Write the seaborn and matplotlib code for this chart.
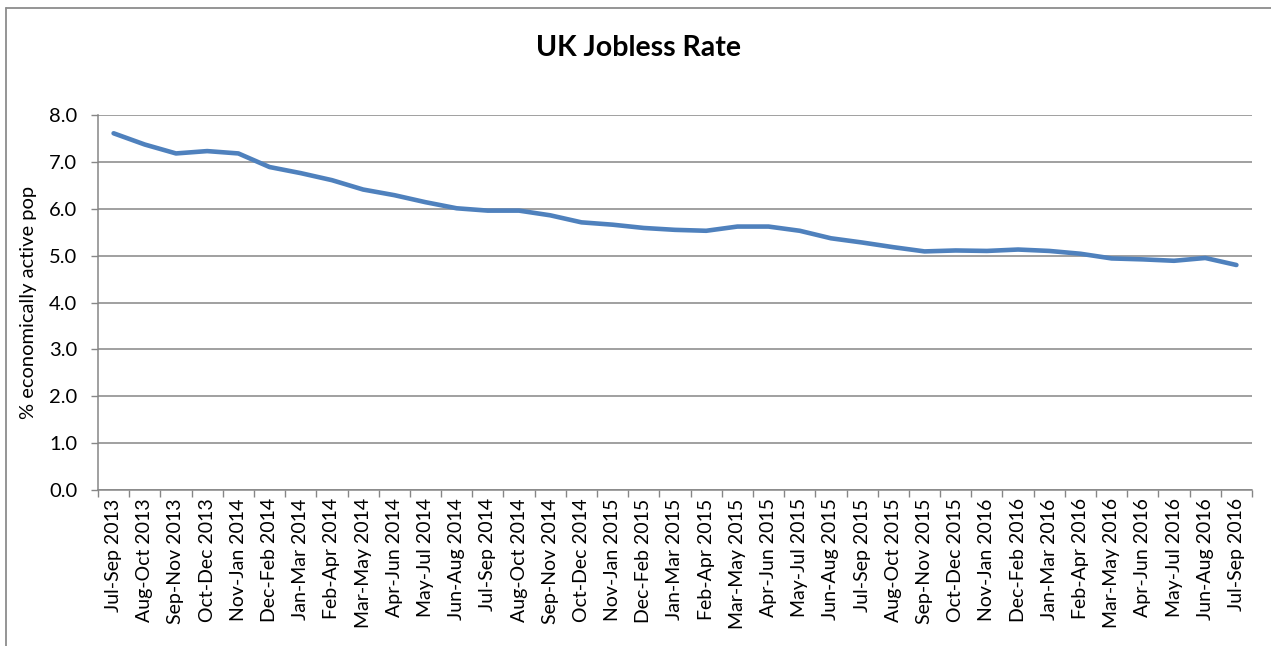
import matplotlib
matplotlib.use("Agg")
import matplotlib.pyplot as plt
import seaborn as sns
import pandas as pd
import numpy as np
from matplotlib.lines import Line2D

periods = [
    "Jul-Sep 2013", "Aug-Oct 2013", "Sep-Nov 2013", "Oct-Dec 2013",
    "Nov-Jan 2014", "Dec-Feb 2014", "Jan-Mar 2014", "Feb-Apr 2014",
    "Mar-May 2014", "Apr-Jun 2014", "May-Jul 2014", "Jun-Aug 2014",
    "Jul-Sep 2014", "Aug-Oct 2014", "Sep-Nov 2014", "Oct-Dec 2014",
    "Nov-Jan 2015", "Dec-Feb 2015", "Jan-Mar 2015", "Feb-Apr 2015",
    "Mar-May 2015", "Apr-Jun 2015", "May-Jul 2015", "Jun-Aug 2015",
    "Jul-Sep 2015", "Aug-Oct 2015", "Sep-Nov 2015", "Oct-Dec 2015",
    "Nov-Jan 2016", "Dec-Feb 2016", "Jan-Mar 2016", "Feb-Apr 2016",
    "Mar-May 2016", "Apr-Jun 2016", "May-Jul 2016", "Jun-Aug 2016",
    "Jul-Sep 2016",
]
jobless_rate = [
    7.61, 7.37, 7.18, 7.23, 7.18, 6.89, 6.76, 6.61,
    6.41, 6.29, 6.14, 6.01, 5.96, 5.96, 5.86, 5.71,
    5.66, 5.59, 5.55, 5.53, 5.62, 5.62, 5.53, 5.37,
    5.28, 5.18, 5.09, 5.11, 5.10, 5.13, 5.10, 5.04,
    4.94, 4.92, 4.89, 4.95, 4.80,
]
y_ticks = [0.0, 1.0, 2.0, 3.0, 4.0, 5.0, 6.0, 7.0, 8.0]

title = "UK Jobless Rate"
y_label = "% economically active pop"

sns.set_theme(style="white")
plt.rcParams["font.family"] = ["Lato", "DejaVu Sans"]

df = pd.DataFrame({"period": periods, "rate": jobless_rate})

fig = plt.figure(figsize=(12.71, 6.46), dpi=100)
ax = fig.add_axes([98 / 1271, 1 - 490 / 646, (1252 - 98) / 1271, (490 - 115) / 646])

grid_col = "#868686"
sns.lineplot(data=df, x="period", y="rate", sort=False, ax=ax,
             color="#4F81BD", linewidth=3.3, solid_capstyle="round")

n = len(periods)
ax.set_xlim(-0.5, n - 0.5)
ax.set_ylim(y_ticks[0], y_ticks[-1])
ax.set_yticks(y_ticks)
ax.set_yticklabels([f"{v:.1f}" for v in y_ticks], fontsize=14.5, color="black")
ax.yaxis.grid(True, color=grid_col, linewidth=1.1)
ax.xaxis.grid(False)

# category labels at centers, ticks at category boundaries
ax.set_xticks(np.arange(n))
ax.set_xticklabels(periods, rotation=90, fontsize=14, color="black")
ax.set_xticks(np.arange(n + 1) - 0.5, minor=True)
ax.tick_params(axis="x", which="major", length=0, pad=6)
ax.tick_params(axis="x", which="minor", length=5, width=1, color=grid_col, direction="out", bottom=True)
ax.tick_params(axis="y", which="major", length=5, width=1, color=grid_col, direction="out", left=True, pad=10)

for s in ["top", "right"]:
    ax.spines[s].set_visible(False)
for s in ["left", "bottom"]:
    ax.spines[s].set_color(grid_col)
    ax.spines[s].set_linewidth(1.1)

ax.set_xlabel("")
ax.set_ylabel(y_label, fontsize=14.5, color="black")
ax.yaxis.set_label_coords((37 - 98) / 1154, 0.5)

fig.text(638 / 1271, 1 - 48 / 646, title, ha="center", va="center",
         fontsize=20.5, fontweight="bold", color="black")

# outer chart border (left and top edges visible in the crop)
fig.add_artist(Line2D([6 / 1271, 6 / 1271], [0, 1 - 8 / 646], transform=fig.transFigure,
                      color="#8c8c8c", linewidth=1.3))
fig.add_artist(Line2D([6 / 1271, 1], [1 - 8 / 646, 1 - 8 / 646], transform=fig.transFigure,
                      color="#8c8c8c", linewidth=1.3))

fig.savefig("out.png", dpi=100)
